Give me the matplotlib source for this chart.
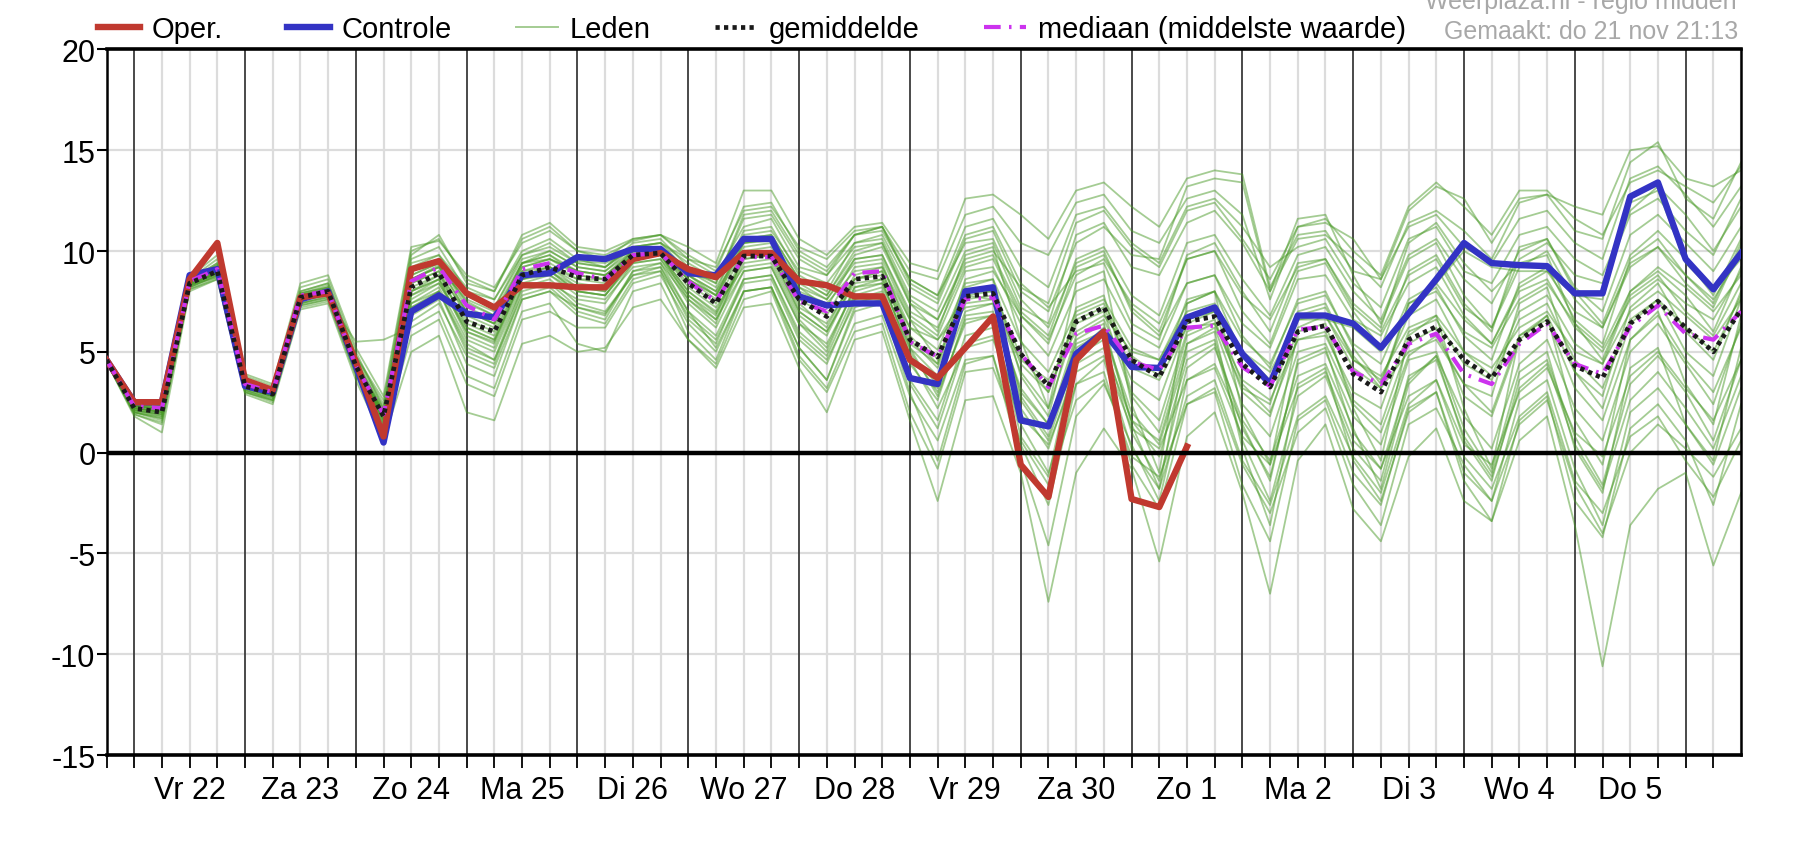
import numpy as np
import matplotlib
matplotlib.use('Agg')
import matplotlib.pyplot as plt

plt.rcParams['font.family'] = ['Liberation Sans', 'DejaVu Sans']

# time axis: hours after Vr 22 00:00, one value every 6 hours
hours = list(range(-6, 349, 6))
day_labels = ['Vr 22', 'Za 23', 'Zo 24', 'Ma 25', 'Di 26', 'Wo 27', 'Do 28',
              'Vr 29', 'Za 30', 'Zo 1', 'Ma 2', 'Di 3', 'Wo 4', 'Do 5']

# operational run (stops at Zo 1 12h)
oper = [4.6, 2.5, 2.5, 8.6, 10.4, 3.6, 3.1, 7.7, 7.9, 4.5, 0.8,
        9.1, 9.5, 7.9, 7.2, 8.3, 8.3, 8.2, 8.2, 9.6, 9.9, 9.1, 8.7,
        9.9, 9.9, 8.5, 8.3, 7.75, 7.75, 4.6, 3.7, 5.2, 6.75, -0.6, -2.2,
        4.6, 6.0, -2.3, -2.7, 0.3]

controle = [4.6, 2.5, 2.5, 8.8, 9.1, 3.3, 3.0, 7.6, 8.0, 4.3, 0.5,
            7.0, 7.8, 6.9, 6.7, 8.8, 8.9, 9.7, 9.6, 10.1, 10.1, 8.9, 8.8,
            10.6, 10.6, 7.75, 7.3, 7.4, 7.4, 3.7, 3.4, 8.0, 8.2, 1.6, 1.3,
            4.9, 6.0, 4.25, 4.2, 6.7, 7.2, 4.9, 3.4, 6.8, 6.8, 6.4, 5.2,
            6.9, 8.6, 10.4, 9.4, 9.3, 9.25, 7.9, 7.9, 12.7, 13.4, 9.6, 8.1, 9.9]

gemiddelde = [4.6, 2.2, 2.0, 8.4, 9.0, 3.3, 2.9, 7.7, 8.0, 4.3, 1.8,
              8.2, 8.9, 6.5, 6.0, 8.8, 9.2, 8.7, 8.6, 9.8, 9.9, 8.4, 7.4,
              9.75, 9.75, 7.6, 6.75, 8.6, 8.75, 5.6, 4.75, 7.75, 7.9, 4.9, 3.3,
              6.5, 7.2, 4.6, 3.75, 6.5, 6.75, 4.4, 3.25, 6.0, 6.3, 3.9, 3.0,
              5.6, 6.25, 4.6, 3.7, 5.6, 6.5, 4.3, 3.7, 6.4, 7.5, 6.2, 5.0, 7.1]

mediaan = [4.6, 2.3, 2.2, 8.5, 9.1, 3.4, 3.0, 7.8, 8.0, 4.3, 1.9,
           8.5, 9.2, 7.3, 6.6, 9.1, 9.4, 8.9, 8.6, 9.8, 9.9, 8.5, 7.5,
           9.7, 9.7, 7.5, 7.0, 8.9, 9.0, 5.5, 4.75, 7.6, 7.7, 4.9, 3.25,
           5.9, 6.3, 4.5, 4.1, 6.2, 6.3, 4.25, 3.3, 6.1, 6.25, 4.0, 3.4,
           5.4, 5.9, 3.9, 3.4, 5.4, 6.4, 4.4, 3.9, 6.25, 7.3, 5.9, 5.6, 7.0]

# ensemble members (Leden)
leden = [
    [4.6, 2.3, 2.2, 8.5, 9.2, 3.4, 3.0, 7.8, 8.1, 4.4, 1.9, 8.6, 9.3, 7.5, 6.8, 9.2, 9.6, 9.0, 8.8, 9.9, 10.0, 8.6, 7.8, 10.0, 10.2, 8.0, 7.4, 9.0, 9.2, 6.2, 5.1, 8.4, 8.6, 5.5, 4.0, 7.0, 7.6, 5.2, 4.6, 7.0, 7.4, 5.0, 4.0, 6.6, 6.8, 4.6, 3.8, 6.2, 6.8, 5.0, 4.2, 6.2, 7.0, 5.0, 4.4, 7.0, 8.0, 6.8, 5.6, 7.6],
    [4.5, 2.0, 1.6, 8.2, 8.8, 3.0, 2.6, 7.3, 7.6, 3.9, 1.2, 6.5, 7.4, 4.8, 4.2, 7.6, 8.0, 7.2, 6.9, 8.8, 9.2, 7.0, 5.8, 8.6, 8.8, 5.8, 4.6, 7.4, 7.8, 3.6, 1.6, 5.8, 6.2, 1.8, 0.4, 4.0, 4.8, 1.2, 0.2, 3.6, 4.2, 0.8, -0.6, 3.2, 4.0, 0.6, -0.8, 2.8, 3.6, 0.4, -0.6, 3.0, 4.2, 1.0, -0.2, 3.8, 5.0, 3.2, 1.6, 4.6],
    [4.7, 2.6, 2.6, 8.7, 9.8, 3.9, 3.4, 8.4, 8.8, 5.2, 2.8, 10.2, 10.5, 8.8, 8.2, 10.4, 11.0, 10.0, 9.8, 10.5, 10.8, 9.6, 9.2, 12.0, 12.2, 10.2, 9.6, 11.0, 11.2, 9.0, 8.6, 11.8, 12.2, 10.4, 9.8, 12.4, 12.8, 11.0, 10.4, 12.6, 13.0, 11.8, 7.6, 11.2, 11.4, 10.6, 8.6, 12.0, 13.2, 12.6, 10.4, 12.6, 12.8, 12.2, 11.8, 15.0, 15.2, 13.6, 13.2, 14.0],
    [4.6, 2.1, 1.8, 8.3, 8.9, 3.2, 2.8, 7.6, 7.9, 4.1, 1.5, 7.6, 8.4, 6.0, 5.5, 8.6, 9.0, 8.2, 8.0, 9.6, 9.8, 8.0, 6.9, 9.6, 9.8, 7.0, 6.0, 8.4, 8.6, 4.8, 3.4, 7.0, 7.4, 3.0, 1.4, 5.8, 6.6, 3.6, 2.6, 6.4, 7.0, 3.4, 2.0, 5.6, 6.0, 2.6, 1.4, 5.4, 6.2, 2.8, 1.8, 5.6, 6.8, 4.0, 2.8, 7.2, 8.4, 6.0, 4.6, 8.0],
    [4.6, 2.5, 2.4, 8.7, 9.1, 3.3, 3.0, 7.6, 8.0, 4.3, 0.6, 7.2, 7.9, 6.8, 6.6, 8.7, 8.9, 9.5, 9.4, 10.0, 10.1, 8.8, 8.6, 10.4, 10.5, 7.8, 7.2, 7.6, 7.6, 3.8, 3.2, 7.8, 8.0, 1.8, 1.2, 5.0, 6.2, 4.4, 4.2, 6.6, 7.0, 5.0, 3.6, 6.6, 6.6, 6.2, 5.0, 7.0, 8.4, 10.0, 9.2, 9.0, 9.0, 7.8, 7.6, 12.4, 13.0, 9.4, 8.0, 9.6],
    [4.5, 1.8, 1.0, 8.0, 8.6, 2.9, 2.4, 7.1, 7.4, 3.6, 0.6, 5.0, 5.8, 2.0, 1.6, 5.4, 5.8, 5.0, 5.2, 7.2, 7.6, 5.6, 4.2, 7.2, 7.4, 4.2, 2.0, 5.6, 6.0, 1.6, -2.4, 2.6, 2.8, -1.0, -7.4, -1.0, 1.2, -0.8, -5.4, 0.8, 2.0, -2.0, -7.0, -0.4, 1.4, -2.8, -4.4, -0.2, 1.2, -2.4, -3.4, 0.6, 1.8, -3.6, -10.6, -3.6, -1.8, -1.0, -5.6, -2.0],
    [4.6, 2.4, 2.3, 8.5, 9.4, 3.6, 3.2, 8.0, 8.4, 4.8, 2.4, 9.6, 10.2, 8.0, 7.6, 10.0, 10.6, 9.6, 9.2, 10.2, 10.4, 9.6, 8.8, 11.2, 11.6, 9.2, 8.8, 10.4, 10.8, 8.2, 7.4, 10.6, 11.0, 8.0, 7.0, 10.4, 11.2, 9.8, 9.6, 13.2, 13.6, 13.4, 8.0, 11.6, 11.8, 8.8, 6.4, 9.6, 10.4, 7.8, 6.2, 9.6, 10.4, 8.8, 8.4, 11.8, 12.6, 11.0, 9.8, 12.6],
    [4.6, 2.2, 2.1, 8.4, 9.0, 3.4, 3.0, 7.7, 8.0, 4.2, 1.7, 8.0, 8.8, 7.0, 6.4, 9.0, 9.4, 8.6, 8.4, 9.8, 10.0, 8.2, 7.2, 9.2, 9.4, 6.6, 5.2, 8.2, 8.6, 6.2, 5.6, 7.8, 7.6, 4.0, 2.2, 6.4, 7.0, 2.8, 1.0, 5.8, 6.4, 3.2, 2.4, 6.8, 7.2, 4.8, 3.2, 7.4, 8.0, 6.0, 5.2, 7.6, 8.4, 6.4, 5.2, 8.0, 9.2, 8.2, 7.0, 8.8],
    [4.6, 2.0, 1.8, 8.3, 8.7, 3.1, 2.7, 7.4, 7.8, 4.0, 1.4, 7.0, 8.0, 5.0, 4.4, 8.0, 8.4, 7.6, 7.4, 9.4, 9.6, 7.4, 6.2, 9.0, 9.2, 6.4, 5.4, 8.0, 8.4, 5.0, 3.0, 6.4, 6.8, 2.6, 0.6, 4.8, 5.6, 1.0, -1.4, 4.2, 5.2, 1.6, -0.4, 3.8, 4.4, 1.2, -1.8, 3.4, 4.8, 1.8, 0.2, 4.4, 5.6, 2.2, 0.6, 5.0, 6.4, 4.4, 2.4, 6.4],
    [4.7, 2.5, 2.5, 8.6, 9.6, 3.8, 3.3, 8.2, 8.6, 5.0, 2.2, 9.8, 10.8, 8.4, 8.0, 10.8, 11.4, 10.2, 10.0, 10.6, 10.8, 10.2, 9.4, 13.0, 13.0, 10.6, 9.8, 11.2, 11.4, 9.4, 9.0, 12.6, 12.8, 11.8, 10.6, 13.0, 13.4, 12.2, 11.2, 13.6, 14.0, 13.8, 8.2, 10.8, 11.0, 9.0, 8.6, 11.2, 11.8, 10.2, 9.4, 11.6, 12.0, 10.4, 9.6, 13.6, 14.2, 12.8, 11.2, 13.2],
    [4.6, 2.3, 2.1, 8.4, 9.1, 3.3, 2.9, 7.7, 8.1, 4.4, 1.9, 8.4, 9.0, 6.8, 6.2, 9.0, 9.2, 8.6, 8.6, 9.8, 9.9, 8.4, 7.4, 10.0, 10.0, 7.6, 6.8, 9.2, 9.4, 5.8, 4.4, 8.0, 8.0, 4.8, 3.0, 6.6, 7.2, 4.2, 3.6, 6.2, 6.4, 3.6, 2.6, 5.6, 5.8, 3.0, 2.2, 6.0, 6.6, 4.4, 3.6, 6.6, 7.4, 4.6, 3.2, 6.6, 7.6, 6.2, 5.0, 7.8],
    [4.5, 1.9, 1.4, 8.1, 8.6, 3.0, 2.5, 7.2, 7.5, 3.8, 1.0, 5.8, 6.6, 3.4, 2.8, 6.6, 7.0, 6.2, 6.2, 8.4, 8.8, 6.4, 5.0, 8.0, 8.2, 4.8, 3.2, 6.4, 6.8, 2.8, 0.6, 4.6, 4.8, 0.4, -2.6, 3.4, 4.0, -0.6, -2.8, 2.4, 3.0, -1.6, -4.4, 1.6, 2.6, -1.0, -2.6, 2.2, 3.0, -1.0, -2.4, 2.6, 3.6, -0.8, -3.6, 2.0, 3.2, 1.4, -0.6, 3.2],
    [4.6, 2.2, 2.0, 8.4, 8.9, 3.2, 2.8, 7.6, 7.9, 4.3, 1.8, 8.2, 8.8, 6.4, 5.8, 8.8, 9.2, 8.4, 8.2, 9.6, 9.8, 8.6, 7.8, 10.4, 10.6, 8.4, 7.6, 9.6, 9.8, 6.8, 5.8, 9.0, 9.2, 6.4, 4.8, 8.0, 8.6, 6.0, 5.2, 8.4, 8.8, 6.4, 5.2, 8.6, 8.8, 6.6, 5.8, 8.4, 9.2, 6.8, 5.4, 8.2, 9.0, 7.0, 6.2, 9.4, 10.2, 8.4, 7.2, 10.2],
    [4.6, 2.4, 2.4, 8.6, 9.3, 3.5, 3.1, 7.9, 8.2, 4.6, 2.0, 9.0, 9.6, 7.8, 7.2, 9.6, 10.0, 9.2, 9.0, 10.2, 10.4, 9.0, 8.2, 10.6, 10.8, 8.6, 7.8, 10.0, 10.4, 7.4, 6.0, 9.8, 10.2, 5.6, 2.2, 8.4, 9.0, 2.4, -1.0, 7.4, 8.0, 2.0, -0.6, 6.0, 6.4, 2.2, -0.4, 5.8, 6.8, 2.2, -0.8, 5.8, 6.8, 1.6, -0.6, 5.6, 7.0, 3.4, 1.4, 6.8],
    [4.6, 2.1, 1.9, 8.3, 8.9, 3.2, 2.8, 7.6, 7.9, 4.2, 1.6, 7.8, 8.6, 5.8, 5.2, 8.4, 8.8, 8.0, 7.8, 9.4, 9.6, 7.8, 6.6, 9.4, 9.6, 6.8, 5.8, 8.6, 8.8, 5.4, 4.4, 8.6, 9.0, 6.8, 5.4, 9.2, 9.8, 7.2, 6.0, 9.6, 10.0, 7.0, 5.4, 9.0, 9.4, 7.0, 5.2, 9.0, 9.8, 7.4, 6.0, 10.2, 10.6, 8.0, 6.4, 9.8, 11.0, 9.6, 7.8, 10.6],
    [4.6, 2.2, 2.0, 8.4, 9.0, 3.3, 2.9, 7.7, 8.0, 4.2, 1.7, 7.4, 8.2, 5.6, 5.0, 8.2, 8.6, 7.4, 7.0, 8.8, 9.0, 6.8, 5.6, 8.4, 8.6, 5.6, 4.4, 7.6, 8.0, 4.4, 2.6, 6.8, 7.0, 3.2, 1.4, 5.4, 6.0, 2.0, 0.4, 5.0, 5.6, 1.2, -1.2, 4.4, 5.0, 1.8, 0.4, 4.6, 5.0, 1.2, -1.0, 4.0, 5.0, 0.2, -2.0, 4.2, 5.2, 1.4, -0.4, 5.2],
    [4.6, 2.3, 2.2, 8.5, 9.1, 3.4, 3.0, 7.8, 8.1, 4.4, 1.9, 8.8, 9.4, 7.2, 6.6, 9.4, 9.8, 9.0, 8.8, 10.0, 10.2, 8.8, 8.0, 11.0, 11.2, 8.8, 8.0, 10.4, 10.6, 7.8, 7.0, 10.0, 10.4, 7.2, 6.4, 10.8, 11.4, 9.2, 8.8, 11.4, 12.0, 10.4, 8.0, 10.6, 10.8, 9.6, 8.2, 11.4, 12.0, 11.0, 9.6, 12.4, 12.8, 11.0, 10.6, 14.4, 15.4, 12.6, 11.6, 14.4],
    [4.5, 2.0, 1.7, 8.2, 8.8, 3.1, 2.6, 7.4, 7.7, 3.9, 1.3, 6.8, 7.6, 4.4, 3.8, 7.6, 8.0, 6.8, 6.4, 8.6, 9.0, 6.0, 4.6, 8.0, 8.2, 5.2, 3.6, 7.2, 7.6, 3.4, 1.2, 5.4, 5.8, 1.4, -1.0, 3.4, 4.6, 0.2, -1.8, 2.8, 3.6, -0.4, -2.6, 1.8, 2.8, -0.2, -2.0, 2.4, 3.6, -0.2, -1.8, 1.8, 3.0, -1.4, -3.0, 0.8, 1.8, -0.4, -2.2, 0.6],
    [4.6, 2.3, 2.2, 8.5, 9.0, 3.4, 3.0, 7.8, 8.0, 4.3, 1.8, 8.6, 9.2, 7.6, 7.0, 9.4, 9.6, 9.0, 8.8, 9.8, 9.9, 8.8, 8.0, 10.2, 10.4, 8.2, 7.6, 9.4, 9.6, 6.6, 5.6, 7.2, 7.4, 4.6, 3.6, 6.0, 6.8, 5.0, 4.6, 7.4, 8.0, 5.6, 4.4, 7.4, 7.8, 5.4, 4.4, 7.6, 8.4, 6.6, 5.4, 8.0, 8.6, 6.2, 5.0, 7.6, 8.6, 7.4, 6.6, 9.0],
    [4.6, 2.1, 1.9, 8.3, 8.9, 3.2, 2.8, 7.6, 7.9, 4.1, 1.6, 7.4, 8.0, 5.4, 4.6, 8.2, 8.4, 7.2, 6.8, 9.0, 9.4, 7.0, 5.2, 8.0, 8.2, 5.2, 3.6, 7.0, 7.4, 3.0, -0.4, 4.4, 4.8, -0.4, -4.6, 1.8, 3.4, 0.4, -2.4, 3.6, 4.4, 1.4, -1.4, 4.6, 5.2, 1.0, -0.8, 3.6, 4.8, 0.6, -1.4, 3.6, 4.6, 0.8, -1.6, 3.4, 4.8, 3.0, 0.6, 4.6],
    [4.7, 2.5, 2.4, 8.6, 9.3, 3.5, 3.1, 7.9, 8.3, 4.7, 2.2, 9.4, 9.8, 8.2, 7.6, 9.8, 10.2, 9.4, 9.2, 10.4, 10.6, 9.2, 8.4, 11.6, 11.8, 9.6, 8.8, 10.8, 11.0, 8.6, 7.8, 11.2, 11.6, 9.2, 8.2, 11.8, 12.2, 10.4, 9.4, 12.2, 12.6, 11.2, 9.2, 10.2, 10.6, 8.4, 7.2, 10.6, 11.2, 9.0, 8.4, 10.8, 11.2, 9.6, 8.8, 12.0, 13.2, 11.8, 10.0, 12.2],
    [4.6, 2.2, 2.0, 8.4, 9.0, 3.3, 2.9, 7.7, 8.0, 4.3, 1.8, 8.0, 8.6, 6.6, 6.0, 8.8, 9.0, 8.0, 7.8, 9.6, 9.8, 7.6, 6.4, 9.8, 10.0, 7.4, 6.2, 8.8, 9.2, 6.6, 4.6, 8.2, 8.6, 3.8, 1.8, 7.2, 7.8, 3.0, 1.6, 6.0, 6.6, 3.0, 1.8, 6.2, 6.8, 4.2, 3.2, 5.0, 5.6, 3.4, 2.8, 7.4, 8.2, 4.0, 2.2, 6.4, 7.6, 5.0, 3.8, 7.6],
    [4.6, 2.4, 2.3, 8.5, 9.2, 3.5, 3.1, 7.9, 8.2, 4.5, 2.0, 8.8, 9.4, 7.4, 6.8, 9.4, 10.0, 9.2, 9.0, 10.0, 10.2, 9.0, 8.4, 11.8, 12.0, 9.8, 9.0, 10.8, 11.2, 8.4, 7.6, 10.8, 11.2, 8.4, 7.2, 9.0, 9.4, 6.4, 5.6, 9.8, 10.4, 8.0, 6.0, 9.4, 9.6, 7.4, 6.2, 10.4, 11.4, 9.4, 8.0, 9.4, 9.8, 6.4, 4.6, 8.0, 9.0, 7.8, 6.0, 9.2],
    [4.5, 1.9, 1.5, 8.1, 8.7, 3.0, 2.6, 7.3, 7.6, 5.5, 5.6, 6.2, 7.0, 3.8, 3.2, 7.0, 7.4, 5.4, 5.0, 8.0, 8.4, 5.6, 4.4, 7.6, 8.0, 4.6, 3.0, 6.0, 6.4, 2.0, -0.8, 4.0, 4.2, 0.6, -1.6, 2.6, 3.6, -0.2, -1.2, 2.4, 3.2, -0.6, -3.0, 1.0, 2.2, -1.6, -3.6, 1.4, 2.2, -0.6, -2.4, 1.4, 2.6, -1.6, -4.0, 0.0, 1.4, 0.2, -1.2, 1.2],
    [4.6, 2.4, 2.3, 8.6, 9.2, 3.4, 3.0, 7.8, 8.2, 4.5, 2.1, 9.2, 9.8, 7.8, 7.2, 9.8, 10.4, 9.4, 9.2, 10.2, 10.4, 9.4, 8.6, 10.8, 11.0, 9.0, 8.4, 10.2, 10.4, 7.6, 6.6, 9.4, 9.8, 7.0, 5.8, 9.6, 10.2, 7.8, 6.8, 10.4, 10.8, 8.6, 6.8, 9.8, 10.2, 8.0, 6.6, 9.8, 10.6, 8.6, 7.4, 10.0, 10.6, 8.2, 7.0, 10.8, 11.8, 10.4, 9.0, 11.2],
    [4.5, 2.0, 1.7, 8.2, 8.8, 3.1, 2.7, 7.4, 7.7, 4.0, 1.4, 7.2, 8.0, 5.2, 4.6, 7.8, 8.2, 7.0, 6.6, 9.0, 9.2, 6.6, 5.4, 8.6, 8.8, 6.0, 4.8, 7.8, 8.2, 4.6, 2.2, 5.2, 5.6, 2.2, 0.2, 4.4, 5.2, 1.6, -0.2, 4.6, 5.4, 0.6, -2.4, 2.8, 3.8, 0.2, -1.4, 3.8, 4.6, 0.8, -1.2, 3.2, 4.4, 0.4, -1.8, 2.6, 4.0, 2.2, 0.2, 3.8],
    [4.6, 2.2, 2.1, 8.4, 9.0, 3.3, 2.9, 7.7, 8.0, 4.3, 1.8, 8.4, 9.0, 6.2, 5.6, 8.8, 9.2, 8.2, 8.0, 9.6, 9.8, 8.0, 7.0, 9.8, 10.0, 7.2, 6.4, 8.6, 9.0, 5.6, 4.2, 7.6, 7.8, 4.4, 3.0, 6.8, 7.4, 4.8, 3.8, 7.6, 8.0, 4.8, 3.4, 7.0, 7.4, 4.6, 3.6, 6.8, 7.6, 5.0, 3.8, 7.0, 7.8, 5.4, 4.4, 7.8, 8.8, 7.0, 5.8, 8.4],
    [4.6, 2.4, 2.4, 8.6, 9.4, 3.6, 3.2, 8.0, 8.4, 4.8, 2.6, 10.0, 10.6, 8.6, 8.0, 10.6, 11.2, 10.0, 9.6, 10.6, 10.8, 9.8, 9.0, 12.2, 12.4, 10.0, 9.2, 10.8, 11.2, 8.6, 7.8, 10.4, 10.6, 7.6, 6.2, 9.4, 10.0, 7.0, 5.8, 8.4, 8.8, 5.8, 4.2, 7.6, 8.0, 5.2, 3.4, 7.4, 8.2, 5.8, 4.6, 8.4, 9.2, 6.6, 5.4, 9.6, 10.6, 8.8, 7.4, 10.4],
    [4.6, 2.1, 1.9, 8.3, 8.9, 3.2, 2.8, 7.6, 7.9, 4.2, 1.6, 7.8, 8.4, 6.2, 5.6, 8.6, 8.8, 7.8, 7.6, 9.2, 9.4, 7.6, 6.6, 9.0, 9.2, 6.4, 5.0, 8.2, 8.4, 5.2, 3.8, 7.4, 7.6, 2.8, 0.8, 5.6, 6.4, 1.4, -1.8, 5.4, 6.0, 0.2, -3.6, 3.4, 4.2, -0.4, -2.4, 2.0, 3.0, -1.4, -3.4, 1.6, 2.8, -2.4, -4.2, 1.2, 2.4, 0.6, -2.6, 2.4],
    [4.6, 2.3, 2.2, 8.5, 9.1, 3.4, 3.0, 7.8, 8.1, 4.4, 2.0, 8.6, 9.2, 7.0, 6.4, 9.4, 9.8, 8.8, 8.6, 10.0, 10.2, 8.8, 7.8, 10.6, 10.8, 8.6, 7.8, 9.8, 10.2, 7.4, 6.6, 9.6, 10.0, 8.2, 7.4, 11.4, 12.0, 10.2, 9.2, 12.0, 12.4, 10.6, 8.6, 11.2, 11.6, 10.0, 8.8, 12.2, 13.4, 12.2, 10.8, 13.0, 13.0, 11.6, 10.8, 13.4, 14.0, 13.2, 12.4, 14.2],
    [4.6, 2.2, 2.0, 8.4, 8.9, 3.2, 2.8, 7.6, 7.9, 4.2, 1.7, 8.0, 8.6, 6.0, 5.4, 8.6, 9.0, 8.0, 7.8, 9.6, 9.8, 7.8, 6.8, 9.6, 9.8, 7.0, 6.0, 8.6, 9.0, 5.2, 2.8, 6.6, 6.8, 0.8, -1.2, 5.2, 6.0, 1.6, 0.6, 5.4, 6.2, 2.4, 0.8, 5.0, 5.4, 2.4, 1.0, 4.8, 5.8, 3.4, 2.0, 5.8, 6.6, 3.2, 1.6, 5.6, 6.8, 4.6, 3.0, 6.2],
    [4.6, 2.3, 2.2, 8.5, 9.1, 3.4, 3.0, 7.8, 8.1, 4.4, 1.9, 8.6, 9.2, 7.0, 6.4, 9.2, 9.6, 8.8, 8.6, 9.8, 10.0, 8.6, 7.6, 10.4, 10.6, 8.2, 7.2, 9.6, 9.8, 7.0, 6.2, 9.2, 9.6, 6.8, 5.6, 8.8, 9.6, 7.4, 6.4, 9.6, 10.0, 7.8, 6.6, 9.2, 9.6, 7.2, 6.0, 8.8, 9.6, 7.2, 6.2, 9.2, 10.0, 7.6, 6.2, 9.2, 10.2, 8.8, 7.6, 9.8],
]

for k, m in enumerate(leden):
    if len(m) != len(hours):
        raise ValueError('member %d has %d values' % (k, len(m)))

fig = plt.figure(figsize=(17.96, 8.53), dpi=100)
ax = fig.add_axes([0.0593, 0.1137, 0.9101, 0.8272])

# background grid
for h in range(0, 349, 6):
    if h % 24 == 0:
        ax.axvline(h, color='#3c3c3c', lw=1.3, zorder=1)
    else:
        ax.axvline(h, color='#dcdcdc', lw=1.6, zorder=0)
for yv in [-10, -5, 5, 10, 15]:
    ax.axhline(yv, color='#dcdcdc', lw=1.6, zorder=0)
ax.axhline(0, color='black', lw=3.2, zorder=6)

# members
for k, m in enumerate(leden):
    ax.plot(hours, m, color='#4a9a28', lw=1.3, alpha=0.5, zorder=2,
            label='Leden' if k == 0 else None)

ax.plot(hours, controle, color='#3333c4', lw=4.6, zorder=4, label='Controle',
        solid_joinstyle='round')
ax.plot(hours[:len(oper)], oper, color='#c0392f', lw=4.6, zorder=5, label='Oper.',
        solid_joinstyle='round')
ax.plot(hours, mediaan, color='#cc33ee', lw=3.0, zorder=6, dashes=(4, 2, 0.6, 2),
        label='mediaan (middelste waarde)')
ax.plot(hours, gemiddelde, color='#1a1a1a', lw=3.4, zorder=7, dashes=(0.9, 0.9),
        label='gemiddelde')

ax.set_xlim(-6, 348)
ax.set_ylim(-15, 20)
ax.set_yticks([-15, -10, -5, 0, 5, 10, 15, 20])
ax.set_yticklabels(['-15', '-10', '-5', '0', '5', '10', '15', '20'], fontsize=22)
ax.set_xticks([12 + 24 * d for d in range(len(day_labels))])
ax.set_xticklabels(day_labels, fontsize=22)
ax.set_xticks([h for h in range(-6, 349, 6) if (h - 12) % 24 != 0], minor=True)
ax.tick_params(axis='x', which='both', length=9.5, width=1.3, direction='out', pad=5)
ax.tick_params(axis='y', length=7, width=1.5, pad=1)

for s in ['top', 'bottom']:
    ax.spines[s].set_linewidth(2.6)
for s in ['left', 'right']:
    ax.spines[s].set_linewidth(1.8)

handles, labels = ax.get_legend_handles_labels()
order = ['Oper.', 'Controle', 'Leden', 'gemiddelde', 'mediaan (middelste waarde)']
hl = [handles[labels.index(o)] for o in order]
leg = fig.legend(hl, order, loc='center left', bbox_to_anchor=(0.0545, 0.965),
                 ncol=5, frameon=False, fontsize=21, handlelength=1.45,
                 handletextpad=0.4, columnspacing=2.2, borderpad=0, borderaxespad=0)
for line in leg.get_lines():
    if line.get_label() == 'Leden':
        line.set_linewidth(1.4)
        line.set_alpha(0.5)

fig.text(0.967, 0.998, 'Weerplaza.nl - regio midden', ha='right', va='center',
         color='#a8a8a8', fontsize=18)
fig.text(0.968, 0.962, 'Gemaakt: do 21 nov 21:13', ha='right', va='center',
         color='#a8a8a8', fontsize=18)

fig.savefig('out.png', dpi=100)
